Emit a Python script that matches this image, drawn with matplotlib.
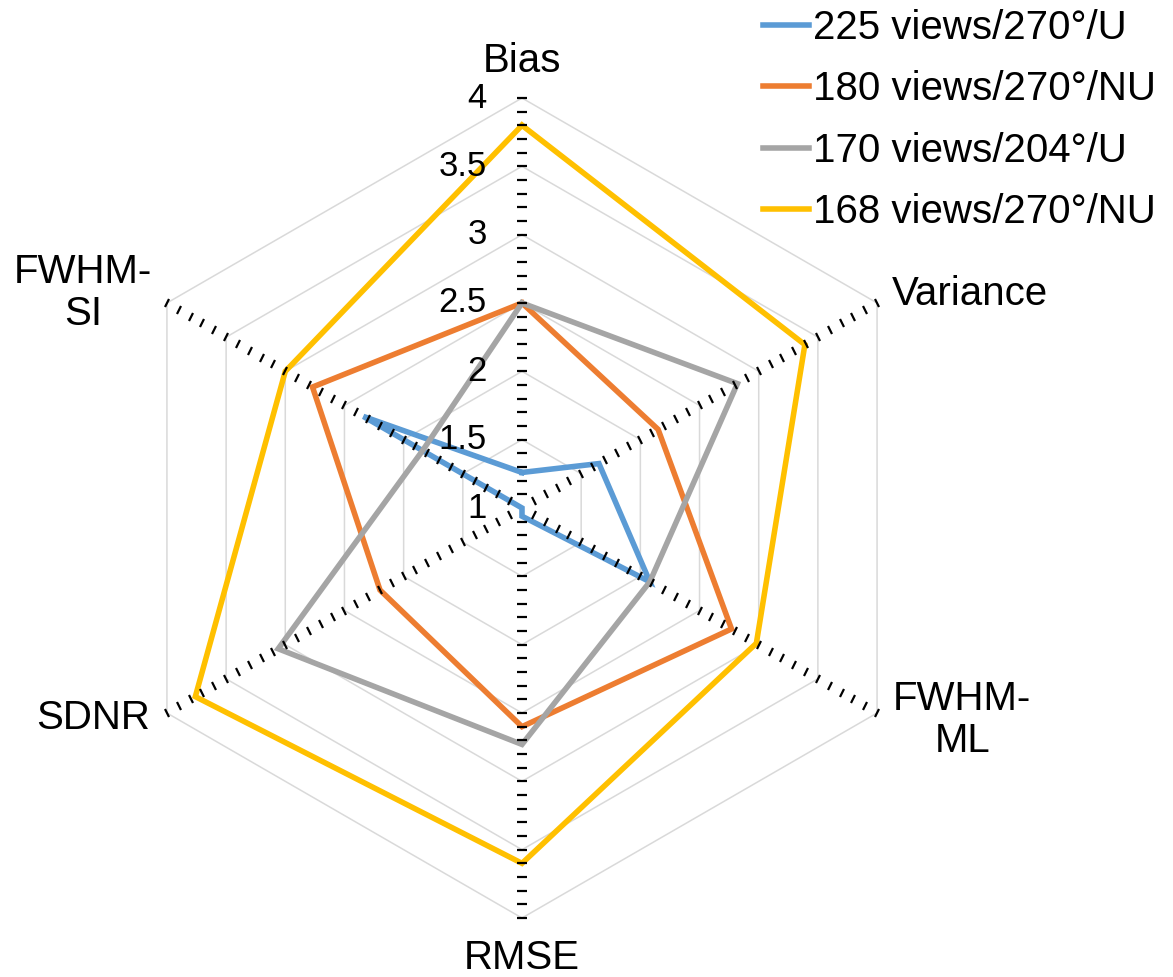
import matplotlib.pyplot as plt
from matplotlib.markers import MarkerStyle
from matplotlib.transforms import Affine2D
import numpy as np

plt.rcParams['font.family'] = ['Liberation Sans', 'DejaVu Sans']

# radar axes, clockwise from the top
categories = ["Bias", "Variance", "FWHM-\nML", "RMSE", "SDNR", "FWHM-\nSI"]
series_names = ["225 views/270°/U", "180 views/270°/NU",
                "170 views/204°/U", "168 views/270°/NU"]
blue_vals = [1.26, 1.65, 2.08, 1.06, 1.0, 2.34]
orange_vals = [2.5, 2.15, 2.77, 2.6, 2.2, 2.77]
gray_vals = [2.5, 2.82, 2.08, 2.73, 3.06, 1.84]
yellow_vals = [3.8, 3.39, 2.98, 3.6, 3.76, 3.0]
r_levels = [1, 1.5, 2, 2.5, 3, 3.5, 4]
r_labels = ["1", "1.5", "2", "2.5", "3", "3.5", "4"]

colors = ['#5B9BD5', '#ED7D31', '#A5A5A5', '#FFC000']
all_vals = [blue_vals, orange_vals, gray_vals, yellow_vals]

W, H = 1173, 977
fig = plt.figure(figsize=(W / 100, H / 100), dpi=100)
cx, cy, R = 522, 508, 410
ax = fig.add_axes([(cx - R) / W, (H - cy - R) / H, 2 * R / W, 2 * R / H],
                  projection='polar')
ax.set_theta_offset(np.pi / 2)
ax.set_theta_direction(-1)
ax.set_ylim(1, 4)
ax.set_xticks([])
ax.set_yticks([])
ax.grid(False)
ax.spines['polar'].set_visible(False)
ax.patch.set_visible(False)

n = len(categories)
angles = np.arange(n) * 2 * np.pi / n
closed = np.append(angles, angles[0])

# hexagon gridlines
for lv in r_levels[1:]:
    ax.plot(closed, [lv] * (n + 1), color='#D9D9D9', lw=1.1, zorder=1,
            clip_on=False)

# series
for name, vals, c in zip(series_names, all_vals, colors):
    ax.plot(closed, vals + vals[:1], color=c, lw=4.0, label=name, zorder=3,
            solid_joinstyle='miter', clip_on=False)

# spokes drawn as rows of small perpendicular ticks
tick_r = np.arange(1.1, 4.001, 0.1)
for a in angles:
    m = MarkerStyle('_', transform=Affine2D().rotate_deg(-np.degrees(a)))
    ax.plot([a] * len(tick_r), tick_r, ls='none', marker=m, ms=6.5,
            mew=1.6, color='black', zorder=4, clip_on=False)

# radial value labels along the Bias spoke
for lv, lab in zip(r_levels, r_labels):
    ax.annotate(lab, xy=(0, lv), xytext=(-35, 0), textcoords='offset pixels',
                ha='right', va='center', fontsize=25, annotation_clip=False)

# category labels
offsets = [(0, 37, 'center'), (15, 9, 'left'), (16, -7, 'left'),
           (0, -40, 'center'), (-17, -5, 'right'), (-15, 10, 'right')]
for a, lab, (ox, oy, ha) in zip(angles, categories, offsets):
    ax.annotate(lab, xy=(a, 4), xytext=(ox, oy), textcoords='offset pixels',
                ha=ha, va='center', multialignment='center', fontsize=29,
                linespacing=1.15, annotation_clip=False)

fig.legend(loc='upper left', bbox_to_anchor=(763 / W, 1 - 9 / H),
           frameon=False, fontsize=29, handlelength=1.15, handletextpad=0.1,
           labelspacing=0.58, borderpad=0, borderaxespad=0)

fig.savefig('out.png', dpi=100)
